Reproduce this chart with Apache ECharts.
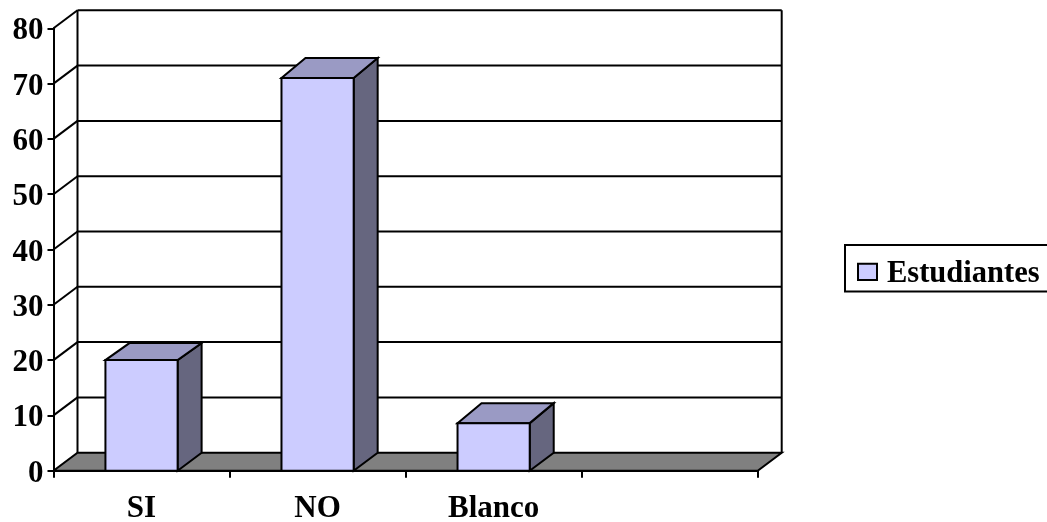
<!DOCTYPE html>
<html><head><meta charset="utf-8">
<style>html,body{margin:0;padding:0;background:#fff;overflow:hidden}#c{width:1047px;height:522px}</style>
<script src="https://cdn.jsdelivr.net/npm/echarts@6/dist/echarts.min.js"></script>
</head><body><div id="c"></div>
<script>
const categories = ['SI', 'NO', 'Blanco', ''];
const estudiantes = [20, 71, 8.6, null];
const yTicks = [0, 10, 20, 30, 40, 50, 60, 70, 80];
const seriesName = 'Estudiantes';

const DX = 24, DY = -18, LW = 2;
const TOP_DY = [-17, -20, -20, -18];
const FONT = '"Liberation Serif", "Times New Roman", serif';
const chart = echarts.init(document.getElementById('c'), null, {renderer: 'canvas'});

function poly(points, fill) {
  return {type: 'polygon', shape: {points}, style: {fill, stroke: '#000', lineWidth: LW, lineJoin: 'miter'}};
}
function line(x1, y1, x2, y2) {
  return {type: 'line', shape: {x1, y1, x2, y2}, style: {stroke: '#000', lineWidth: LW}};
}
function renderWall(params, api) {
  const c = params.coordSys;
  const v = api.value(0);
  const y = api.coord([0, v])[1];
  const l = c.x, r = c.x + c.width;
  const children = [];
  if (v === 0) {
    const top = api.coord([0, yTicks[yTicks.length - 1]])[1];
    children.push(poly([[l, y], [r, y], [r + DX, y + DY], [l + DX, y + DY]], '#808080'));
    children.push(line(l + DX, y + DY, l + DX, top + DY));
    children.push(line(r + DX, y + DY, r + DX, top + DY));
  } else {
    children.push(line(l, y, l + DX, y + DY));
    children.push(line(l + DX, y + DY, r + DX, y + DY));
  }
  return {type: 'group', children};
}
function renderBar(params, api) {
  const cat = api.value(0), val = api.value(1);
  const base = api.coord([cat, 0]);
  const top = api.coord([cat, val]);
  const w = api.size([1, 0])[0] * 0.41;
  const l = base[0] - w / 2, r = base[0] + w / 2;
  const b = base[1], t = top[1], d = TOP_DY[cat];
  return {type: 'group', children: [
    poly([[r, b], [r + DX, b + DY], [r + DX, t + d], [r, t]], '#66667f'),
    poly([[l, t], [r, t], [r + DX, t + d], [l + DX, t + d]], '#9a9ac4'),
    poly([[l, b], [r, b], [r, t], [l, t]], '#ccccff')
  ]};
}

chart.setOption({
  animation: false,
  backgroundColor: '#fff',
  legend: {
    data: [seriesName],
    left: 845, top: 245,
    orient: 'horizontal',
    padding: [13, 30, 1, 12],
    backgroundColor: '#fff',
    borderColor: '#000', borderWidth: 2,
    itemWidth: 19, itemHeight: 32, itemGap: 0,
    icon: 'path://M0 0Z M0 5H20V22H0Z M0 32Z',
    itemStyle: {color: '#ccccff', borderColor: '#000', borderWidth: 2},
    textStyle: {fontFamily: FONT, fontWeight: 'bold', fontSize: 30.5, color: '#000', padding: [0, 0, 0, 5]}
  },
  grid: {left: 53.5, right: 289.3, top: 28.3, bottom: 51.3, containLabel: false, outerBoundsMode: 'none'},
  xAxis: {
    type: 'category', data: categories, boundaryGap: true,
    axisLine: {show: true, onZero: false, lineStyle: {color: '#000', width: LW}},
    axisTick: {show: true, length: 7, inside: false, lineStyle: {color: '#000', width: LW}},
    axisLabel: {interval: 0, margin: 23, fontFamily: FONT, fontWeight: 'bold', fontSize: 31, color: '#000'},
    splitLine: {show: false}
  },
  yAxis: {
    type: 'value', min: 0, max: 80, interval: 10,
    axisLine: {show: true, lineStyle: {color: '#000', width: LW}},
    axisTick: {show: true, length: 6, lineStyle: {color: '#000', width: LW}},
    axisLabel: {margin: 10, fontFamily: FONT, fontWeight: 'bold', fontSize: 31, color: '#000', verticalAlign: 'top', lineHeight: 6},
    splitLine: {show: false}
  },
  series: [
    {type: 'custom', name: 'walls', z: 1, silent: true, clip: false,
     data: yTicks.map(v => [v]), encode: {y: 0}, renderItem: renderWall},
    {type: 'custom', name: seriesName, z: 3, clip: false,
     itemStyle: {color: '#ccccff'},
     data: categories.map((c, i) => [i, estudiantes[i]]).filter(d => d[1] != null),
     encode: {x: 0, y: 1}, renderItem: renderBar}
  ]
});
</script></body></html>
